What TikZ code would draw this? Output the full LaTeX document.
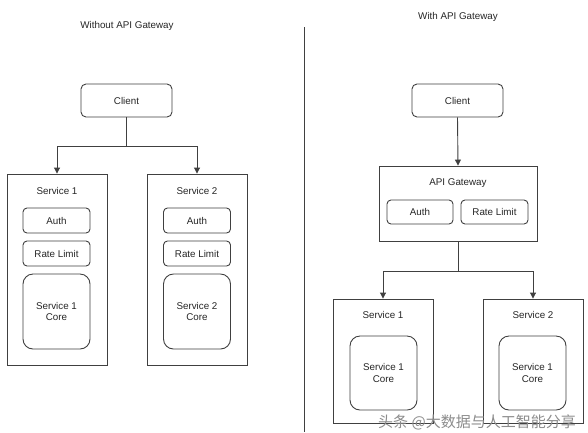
\documentclass[tikz,border=0pt]{standalone}
\usepackage{fontspec}
\setmainfont{Liberation Sans}
\newfontfamily\cjkfont{Noto Sans CJK SC}
\usetikzlibrary{arrows.meta}
\begin{document}
\begin{tikzpicture}[x=1pt,y=-1pt,
  every node/.style={font=\fontsize{9.8}{11.5}\selectfont, text=black!85, inner sep=0pt},
  line/.style={draw=black!75, line width=0.9pt},
  rbox/.style={line, rounded corners=5pt},
  sbox/.style={line},
  corebox/.style={line, rounded corners=10pt, align=center},
  arr/.style={line, -{Triangle[width=6pt,length=6pt]}},
  lbl/.style={}
]
\useasboundingbox (0,0) rectangle (588,432);
\fill[white] (0,0) rectangle (588,432);

% ---------- Left: Without API Gateway ----------
\node[lbl] (t1) at (127,26) {Without API Gateway};
\node[rbox, minimum width=91pt, minimum height=33pt] (c1) at (126.5,100.5) {Client};

\node[sbox, minimum width=100pt, minimum height=191pt] (s1) at (57,269.5) {};
\node[lbl] (s1l) at (57,191) {Service 1};
\node[rbox, rounded corners=4pt, minimum width=67pt, minimum height=25pt] (s1a) at (56.5,220.5) {Auth};
\node[rbox, rounded corners=4pt, minimum width=67pt, minimum height=25pt] (s1r) at (56.5,253.5) {Rate Limit};
\node[corebox, minimum width=67pt, minimum height=75pt] (s1c) at (56.5,311.5) {Service 1\\Core};

\node[sbox, minimum width=100pt, minimum height=191pt] (s2) at (197,269.5) {};
\node[lbl] (s2l) at (197,191) {Service 2};
\node[rbox, rounded corners=4pt, minimum width=67pt, minimum height=25pt] (s2a) at (197,220.5) {Auth};
\node[rbox, rounded corners=4pt, minimum width=67pt, minimum height=25pt] (s2r) at (197,253.5) {Rate Limit};
\node[corebox, minimum width=67pt, minimum height=75pt] (s2c) at (197,311.5) {Service 2\\Core};

\coordinate (j1) at (126.5,146);
\draw[line] (c1.south) -- (j1);
\draw[arr] (j1) -| (s1.north);
\draw[arr] (j1) -| (s2.north);

% ---------- Divider ----------
\coordinate (d1) at (304,27);
\coordinate (d2) at (304,432);
\draw[line] (d1) -- (d2);

% ---------- Right: With API Gateway ----------
\node[lbl] (t2) at (458,17) {With API Gateway};
\node[rbox, minimum width=91pt, minimum height=33pt] (c2) at (457.5,100.5) {Client};

\node[sbox, minimum width=158pt, minimum height=75pt] (gw) at (458,203.5) {};
\node[lbl] (gwl) at (458,183) {API Gateway};
\node[rbox, rounded corners=4pt, minimum width=66pt, minimum height=24pt] (gwa) at (420,212) {Auth};
\node[rbox, rounded corners=4pt, minimum width=67pt, minimum height=24pt] (gwr) at (494.5,212) {Rate Limit};

\draw[arr] (c2.south) -- (gw.north);

\node[sbox, minimum width=100pt, minimum height=124pt] (s3) at (383,361) {};
\node[lbl] (s3l) at (383,315) {Service 1};
\node[corebox, minimum width=67pt, minimum height=74pt] (s3c) at (383.5,373) {Service 1\\Core};

\node[sbox, minimum width=100pt, minimum height=124pt] (s4) at (533,361) {};
\node[lbl] (s4l) at (533,315) {Service 2};
\node[corebox, minimum width=67pt, minimum height=74pt] (s4c) at (532.5,373) {Service 1\\Core};

\coordinate (j2) at (458,271);
\draw[line] (gw.south) -- (j2);
\draw[arr] (j2) -| (s3.north);
\draw[arr] (j2) -| (s4.north);

% ---------- Watermark ----------
\node[font=\cjkfont\fontsize{15}{17}\selectfont, text=black!45, anchor=west] (wm) at (378,422) {头条 @大数据与人工智能分享};
\end{tikzpicture}
\end{document}
